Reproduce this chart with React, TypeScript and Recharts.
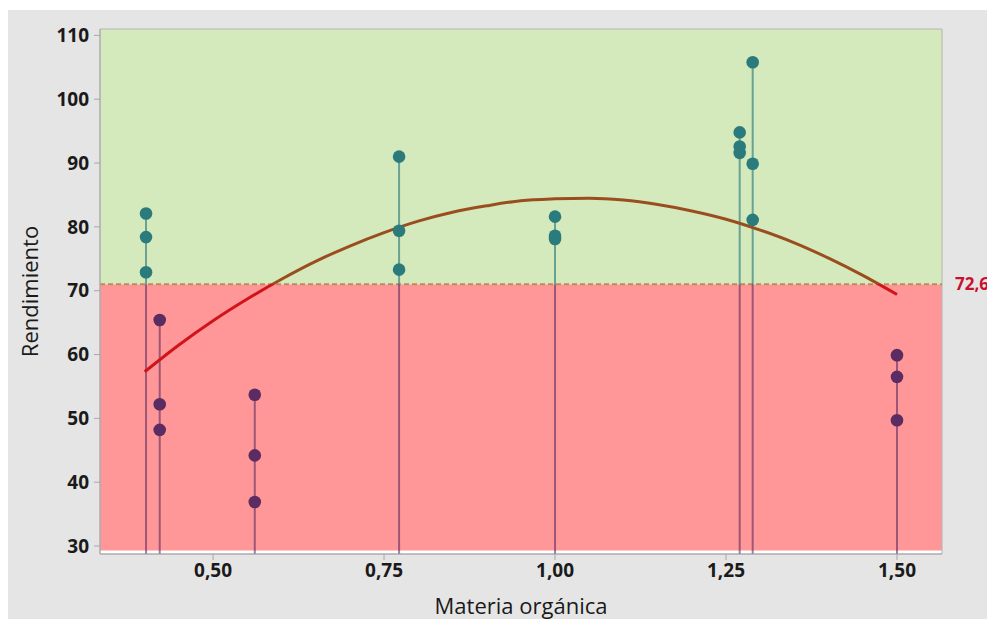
import React from 'react';
import { ComposedChart, Line, Scatter, XAxis, YAxis, ReferenceArea, ReferenceLine, Label } from 'recharts';

// valores
const xTicks = [0.5, 0.75, 1, 1.25, 1.5];
const yTicks = [30, 40, 50, 60, 70, 80, 90, 100, 110];

const groupX = [0.402, 0.422, 0.561, 0.772, 1.0, 1.27, 1.289, 1.5];
const groupValues = [
  [82.1, 78.4, 72.9],
  [65.4, 52.2, 48.2],
  [53.7, 44.2, 36.9],
  [91.0, 79.4, 73.3],
  [81.6, 78.6, 78.1],
  [94.8, 92.6, 91.6],
  [105.8, 89.9, 81.1],
  [59.9, 56.5, 49.7],
];

const curveX = [0.4, 0.45, 0.5, 0.55, 0.6, 0.65, 0.7, 0.75, 0.8, 0.85, 0.9, 0.95, 1.0, 1.05, 1.1, 1.15, 1.2, 1.25, 1.3, 1.35, 1.4, 1.45, 1.5];
const curveY = [57.3, 61.5, 65.3, 68.7, 71.8, 74.6, 77.0, 79.1, 80.9, 82.3, 83.3, 84.1, 84.4, 84.5, 84.2, 83.5, 82.5, 81.2, 79.5, 77.5, 75.1, 72.4, 69.4];

const threshold = 71;
const thresholdLabel = '72,6';

const xDomain = [0.3347, 1.5658];
const yDomain = [28.75, 111];
const fillBottom = 29.3;

const FONT = '"Open Sans", "Noto Sans", sans-serif';
const TEAL = '#2c7b7c';
const PURPLE = '#5b2c62';

const points = groupX.flatMap((x, i) => groupValues[i].map(y => ({ x, y })));
const highPoints = points.filter(p => p.y > threshold);
const lowPoints = points.filter(p => p.y <= threshold);
const curveData = curveX.map((x, i) => ({ x, y: curveY[i] }));

const stems = groupX.map((x, i) => {
  const top = Math.max(...groupValues[i]);
  return {
    x,
    low: [{ x, y: yDomain[0] }, { x, y: Math.min(top, threshold) }],
    high: top > threshold ? [{ x, y: threshold }, { x, y: top }] : null,
  };
});

const cMax = Math.max(...curveY);
const cMin = Math.min(...curveY);
const stop = (cMax - threshold) / (cMax - cMin);

const fmtX = (v: number) => v.toFixed(2).replace('.', ',');

const Dot = (color: string) => (props: any) => (
  <circle cx={props.cx} cy={props.cy} r={6.3} fill={color} />
);

export default function App() {
  return (
    <div style={{ width: 987, height: 609, marginTop: 2, background: '#e5e5e5' }}>
      <ComposedChart width={987} height={609} margin={{ top: 19, right: 53, bottom: 0, left: 0 }}>
        <defs>
          <linearGradient id="curveGrad" x1="0" y1="0" x2="0" y2="1">
            <stop offset={stop} stopColor="#9a4e1f" />
            <stop offset={stop} stopColor="#d0141a" />
          </linearGradient>
        </defs>
        <XAxis
          type="number"
          dataKey="x"
          domain={xDomain}
          ticks={xTicks}
          tickFormatter={fmtX}
          height={65}
          tickSize={6}
          tickMargin={4}
          stroke="#a8a8a8"
          tick={{ fill: '#1a1a1a', fontSize: 19, fontWeight: 'bold', fontFamily: FONT }}
          allowDataOverflow
        >
          <Label value="Materia orgánica" position="insideBottom" offset={5} style={{ fill: '#1a1a1a', fontSize: 22, fontFamily: FONT }} />
        </XAxis>
        <YAxis
          type="number"
          dataKey="y"
          domain={yDomain}
          ticks={yTicks}
          width={92}
          tickSize={6}
          tickMargin={5}
          stroke="#a8a8a8"
          tick={{ fill: '#1a1a1a', fontSize: 19, fontWeight: 'bold', fontFamily: FONT }}
          allowDataOverflow
        >
          <Label value="Rendimiento" angle={-90} position="insideLeft" offset={22} style={{ textAnchor: 'middle', fill: '#1a1a1a', fontSize: 22, fontFamily: FONT }} />
        </YAxis>
        <ReferenceArea x1={xDomain[0]} x2={xDomain[1]} y1={yDomain[0]} y2={yDomain[1]} fill="#ffffff" fillOpacity={1} stroke="none" />
        <ReferenceArea x1={xDomain[0]} x2={xDomain[1]} y1={fillBottom} y2={threshold} fill="#ff9697" fillOpacity={1} stroke="none" />
        <ReferenceArea x1={xDomain[0]} x2={xDomain[1]} y1={threshold} y2={yDomain[1]} fill="#d4eabc" fillOpacity={1} stroke="none" />
        <ReferenceArea x1={xDomain[0]} x2={xDomain[1]} y1={yDomain[0]} y2={yDomain[1]} fill="none" stroke="#b4b4b4" strokeWidth={1} />
        <ReferenceLine
          y={threshold}
          stroke="#bf8a5a"
          strokeWidth={2}
          strokeDasharray="5 3"
          label={{ value: thresholdLabel, position: 'right', offset: 13, fill: '#c8102e', fontSize: 17, fontWeight: 'bold', fontFamily: FONT }}
        />
        {stems.map((s, i) => (
          <Line key={'l' + i} data={s.low} dataKey="y" stroke={PURPLE} strokeOpacity={0.6} strokeWidth={2} dot={false} activeDot={false} isAnimationActive={false} />
        ))}
        {stems.filter(s => s.high).map((s, i) => (
          <Line key={'h' + i} data={s.high as any} dataKey="y" stroke={TEAL} strokeOpacity={0.65} strokeWidth={2} dot={false} activeDot={false} isAnimationActive={false} />
        ))}
        <Line data={curveData} dataKey="y" type="monotone" stroke="url(#curveGrad)" strokeWidth={3} dot={false} activeDot={false} isAnimationActive={false} />
        <Scatter data={highPoints} dataKey="y" shape={Dot(TEAL)} isAnimationActive={false} />
        <Scatter data={lowPoints} dataKey="y" shape={Dot(PURPLE)} isAnimationActive={false} />
      </ComposedChart>
    </div>
  );
}
